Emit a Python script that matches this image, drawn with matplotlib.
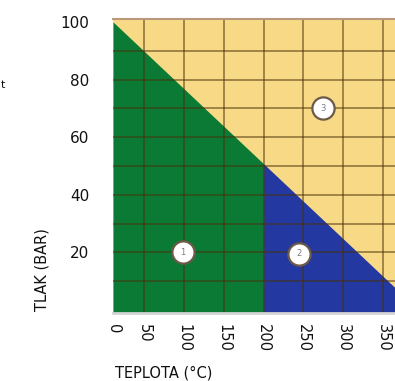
import numpy as np
import matplotlib
matplotlib.use("Agg")
import matplotlib.pyplot as plt

# axis ticks
temp_ticks = [0, 50, 100, 150, 200, 250, 300, 350]
pressure_ticks = [20, 40, 60, 80, 100]

# phase boundary (diagonal) and the split between zone 1 and zone 2
boundary_T = [11, 395]
boundary_P = [100, 0]
split_T = 200

# numbered zone markers
zone_labels = ["1", "2", "3"]
zone_T = [99, 245, 274]
zone_P = [20, 19.5, 70]

xmin, xmax = 11, 365
ymin, ymax = -1, 101

fig = plt.figure(figsize=(3.95, 3.81), dpi=100)
ax = fig.add_axes([113/395, 68/381, 282/395, 294/381])
ax.set_xlim(xmin, xmax)
ax.set_ylim(ymin, ymax)
ax.set_facecolor("#f8da86")

# zones below the diagonal
t1 = np.linspace(xmin, split_T, 200)
ax.fill_between(t1, ymin, np.interp(t1, boundary_T, boundary_P), color="#0b7a34", lw=0, zorder=1)
t2 = np.linspace(split_T, xmax, 200)
ax.fill_between(t2, ymin, np.interp(t2, boundary_T, boundary_P), color="#2338a0", lw=0, zorder=1)

# background grid
for t in temp_ticks[1:]:
    ax.axvline(t, color="#4a3008", alpha=0.5, lw=1.4, zorder=2)
for p in range(10, 100, 10):
    ax.axhline(p, color="#4a3008", alpha=0.5, lw=1.4, zorder=2)

# zone markers
ax.plot(zone_T, zone_P, "o", ms=16, mfc="white", mec="#6b5a48", mew=1.6, zorder=4)
for lab, t, p in zip(zone_labels, zone_T, zone_P):
    ax.text(t, p, lab, ha="center", va="center", fontsize=6, color="#7a7a8a", zorder=5)

# ticks - the "0" sits on the left edge of the picture
ax.set_xticks([xmin] + temp_ticks[1:])
ax.set_xticklabels([str(v) for v in temp_ticks], rotation=-90, fontsize=10.5)
ax.set_yticks(pressure_ticks)
ax.set_yticklabels([str(v) for v in pressure_ticks], fontsize=11)
ax.tick_params(axis="both", length=0, colors="#111111")
ax.tick_params(axis="y", pad=17)
ax.tick_params(axis="x", pad=8)
for lbl in ax.get_xticklabels():
    lbl.set_va("top")

for s in ["left", "right"]:
    ax.spines[s].set_visible(False)
ax.spines["top"].set_color("#b89a7a")
ax.spines["top"].set_linewidth(1.5)
ax.spines["bottom"].set_color("#d4d4d4")
ax.spines["bottom"].set_linewidth(2)

fig.text(164/395, 1 - 373/381, "TEPLOTA (°C)", ha="center", va="center", fontsize=10.5, color="#111111")
fig.text(42/395, 1 - 270/381, "TLAK (BAR)", ha="center", va="center", rotation=90, fontsize=10.5, color="#111111")
fig.text(1/395, 1 - 85/381, "t", ha="left", va="center", fontsize=8, color="#111111")

fig.savefig("out.png", dpi=100)
